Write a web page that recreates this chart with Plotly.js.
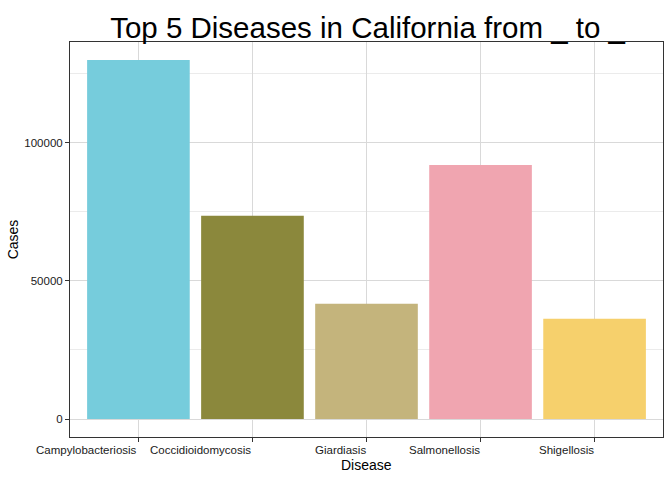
<!DOCTYPE html>
<html>
<head>
<meta charset="utf-8">
<script src="https://cdn.plot.ly/plotly-3.0.1.min.js"></script>
<style>html,body{margin:0;padding:0;background:#fff;}#chart{width:672px;height:480px;}</style>
</head>
<body>
<div id="chart"></div>
<script>
const diseases = ["Campylobacteriosis", "Coccidioidomycosis", "Giardiasis", "Salmonellosis", "Shigellosis"];
const cases = [130000, 73600, 41700, 92000, 36300];
const barColors = ["#76CCDC", "#8B883C", "#C4B47C", "#F0A5B0", "#F6D06C"];
const yTicks = [0, 50000, 100000];
const yMinor = [25000, 75000, 125000];

const trace = {
  type: "bar",
  x: diseases,
  y: cases,
  marker: {color: barColors, line: {width: 0}},
  width: 0.9,
  hoverinfo: "x+y"
};

const labelAnnotations = diseases.map(d => ({
  x: d, xref: "x", y: 0, yref: "paper",
  text: d, showarrow: false,
  xanchor: "right", yanchor: "top", yshift: -5, xshift: 1,
  font: {size: 11.5, color: "#1a1a1a"}
}));
labelAnnotations.push({
  x: 0.5, xref: "paper", y: 0, yref: "paper",
  text: "Disease", showarrow: false,
  xanchor: "center", yanchor: "middle", yshift: -28,
  font: {size: 14, color: "#000"}
});

const layout = {
  width: 672, height: 480,
  margin: {l: 70, r: 9, t: 42, b: 43},
  paper_bgcolor: "#fff", plot_bgcolor: "#fff",
  showlegend: false,
  font: {family: "Liberation Sans, Arial, sans-serif", color: "#000"},
  title: {text: "Top 5 Diseases in California from _ to _", font: {size: 29.5, color: "#000"}, x: 0.547, xref: "container", xanchor: "center", y: 0.942, yanchor: "middle"},
  annotations: labelAnnotations,
  xaxis: {
    type: "category",
    range: [-0.6, 4.6],
    showticklabels: false,
    ticks: "outside", ticklen: 4, tickcolor: "#333", tickwidth: 1,
    showgrid: true, gridcolor: "#D9D9D9", gridwidth: 1,
    showline: true, linecolor: "#333", linewidth: 1, mirror: true,
    zeroline: false
  },
  yaxis: {
    range: [-6500, 136500],
    tickvals: yTicks,
    ticktext: yTicks.map(String),
    title: {text: "Cases", font: {size: 14}, standoff: 2},
    tickfont: {size: 11.5, color: "#1a1a1a"},
    ticks: "outside", ticklen: 4, tickcolor: "#333", tickwidth: 1,
    showgrid: true, gridcolor: "#D9D9D9", gridwidth: 1,
    minor: {tickvals: yMinor, showgrid: true, gridcolor: "#EBEBEB", gridwidth: 1, ticks: ""},
    showline: true, linecolor: "#333", linewidth: 1, mirror: true,
    zeroline: false
  }
};

Plotly.newPlot("chart", [trace], layout, {displayModeBar: false, staticPlot: true});
</script>
</body>
</html>
